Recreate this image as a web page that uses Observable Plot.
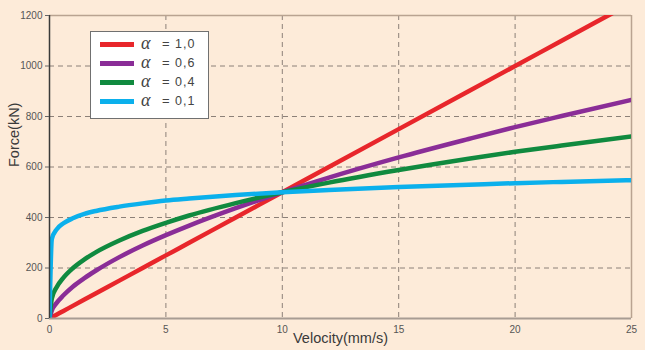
<!DOCTYPE html>
<html><head><meta charset="utf-8">
<script src="https://cdn.jsdelivr.net/npm/d3@7"></script>
<script src="https://cdn.jsdelivr.net/npm/@observablehq/plot@0.6"></script>
<style>
body{margin:0;background:#fdebd9;}
#wrap{position:relative;width:645px;height:350px;background:#fdebd9;font-family:"Liberation Sans",Arial,sans-serif;overflow:hidden;}
#legend{position:absolute;left:90px;top:31px;width:117px;height:86px;background:#fff;border:1.5px solid #707070;}
.sw{position:absolute;left:9px;width:34px;height:5px;}
.al,.eq,.val{position:absolute;display:block;height:16px;line-height:16px;color:#444;white-space:nowrap;overflow:visible;}
.al{left:50px;font-family:"Liberation Serif",serif;font-style:italic;font-size:18px;}
.eq{left:71px;font-size:13px;}
.val{left:84px;font-size:12.5px;letter-spacing:1px;}
svg{position:absolute;left:0;top:0;}
</style></head>
<body><div id="wrap"></div>
<script>
const velocity = [0, 0.1, 0.3, 0.6, 1, 1.5, 2, 3, 4, 5, 6, 8, 10, 12, 15, 18, 20, 22, 25];
const forceA10 = [0, 5, 15, 30, 50, 75, 100, 150, 200, 250, 300, 400, 500, 600, 750, 900, 1000, 1100, 1250];
const forceA06 = [0, 32, 61, 92, 126, 160, 190, 243, 289, 330, 368, 437, 500, 558, 638, 711, 758, 802, 866];
const forceA04 = [0, 79, 123, 162, 199, 234, 263, 309, 347, 379, 408, 457, 500, 538, 588, 633, 660, 685, 721];
const forceA01 = [0, 315, 352, 377, 397, 414, 426, 443, 456, 467, 475, 489, 500, 509, 521, 530, 536, 541, 548];
const alphaLabels = ["1,0", "0,6", "0,4", "0,1"];
const seriesColors = ["#e8262b", "#8a2d97", "#108a3f", "#0bb0ec"];
const xTicks = [0, 5, 10, 15, 20, 25];
const yTicks = [0, 200, 400, 600, 800, 1000, 1200];

const seriesForces = [forceA10, forceA06, forceA04, forceA01];
const rows = [];
seriesForces.forEach((arr, i) => velocity.forEach((v, j) => rows.push({v, f: arr[j], s: alphaLabels[i]})));

const grid = {stroke: "#8c8078", strokeOpacity: 1, strokeDasharray: "5,4", strokeWidth: 1};
const chart = Plot.plot({
  width: 645, height: 350,
  marginLeft: 49, marginRight: 14, marginTop: 15, marginBottom: 32,
  style: {background: "transparent", fontFamily: "Liberation Sans, Arial, sans-serif"},
  x: {domain: [0, 25], ticks: xTicks},
  y: {domain: [0, 1200], ticks: yTicks},
  color: {domain: alphaLabels, range: seriesColors},
  marks: [
    Plot.gridX(xTicks.filter(t => t > 0 && t < 25), grid),
    Plot.gridY(yTicks.filter(t => t > 0 && t < 1200), grid),
    Plot.ruleY([1200], {stroke: "#b9a391", strokeWidth: 1.5}),
    Plot.ruleX([25], {stroke: "#b9a391", strokeWidth: 1.5}),
    Plot.line(rows, {x: "v", y: "f", z: "s", stroke: "s", strokeWidth: 4.5, curve: "monotone-x", clip: true}),
    Plot.ruleY([0], {stroke: "#a89c93", strokeWidth: 2}),
    Plot.ruleX([0], {stroke: "#3a3a3a", strokeWidth: 1.5}),
    Plot.axisY(yTicks, {tickSize: 4, tickPadding: 3, fontSize: 10, color: "#555", stroke: "#666", label: null, tickFormat: d => String(d)}),
    Plot.axisX(xTicks, {tickSize: 0, tickPadding: 7, fontSize: 10, color: "#555", label: null, tickFormat: d => String(d)}),
    Plot.text(["Velocity(mm/s)"], {frameAnchor: "bottom", dy: 24, fontSize: 14.5, fill: "#3a3a3a"}),
    Plot.text(["Force(kN)"], {frameAnchor: "left", dx: -35, rotate: -90, fontSize: 14.5, fill: "#3a3a3a"})
  ]
});
const wrap = document.getElementById("wrap");
wrap.appendChild(chart);

const legend = document.createElement("div");
legend.id = "legend";
alphaLabels.forEach((lab, i) => {
  const cy = 12 + i * 19;
  const sw = document.createElement("div");
  sw.className = "sw"; sw.style.top = (cy - 2.5) + "px"; sw.style.background = seriesColors[i];
  legend.appendChild(sw);
  const al = document.createElement("span");
  al.className = "al"; al.style.top = (cy - 9) + "px"; al.textContent = "α";
  legend.appendChild(al);
  const eq = document.createElement("span");
  eq.className = "eq"; eq.style.top = (cy - 8) + "px"; eq.textContent = "=";
  legend.appendChild(eq);
  const val = document.createElement("span");
  val.className = "val"; val.style.top = (cy - 8) + "px"; val.textContent = lab;
  legend.appendChild(val);
});
wrap.appendChild(legend);
</script>
</body></html>
